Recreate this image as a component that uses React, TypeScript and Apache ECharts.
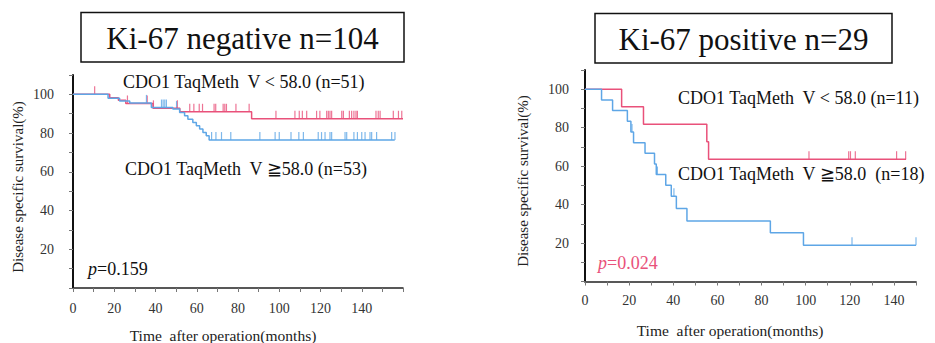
import React, { useEffect, useRef } from "react";
import * as echarts from "echarts";

// ---- Left panel (Ki-67 negative) ----
const leftRedTimes = [0, 17.8, 22, 25.6, 38.8, 51.8, 86.6, 160];
const leftRedSurv = [100, 98.3, 97.0, 95.3, 92.8, 91.0, 87.4, 87.4];
const leftRedCensorT = [10.5, 26.4, 36, 39, 50.6, 56.6, 58.6, 61.2, 62.8, 68.4, 69.2, 72.8, 73.6, 74.4, 79, 85.4, 98.4, 107.6, 109.7, 111.2, 113.3, 118.1, 119.7, 123, 123.8, 124.6, 125.4, 130.3, 131.1, 134, 135.1, 136.2, 137.2, 137.9, 146.9, 148, 148.9, 155.3, 157.8, 159.4];

const leftBlueTimes = [0, 17, 22.6, 27.5, 38, 48.4, 51.7, 54.1, 55.7, 58.1, 59.8, 61.4, 63, 64.6, 66, 156];
const leftBlueSurv = [100, 98.0, 96.6, 95.6, 93.2, 92.4, 90.6, 88.9, 87.2, 85.5, 83.8, 82.1, 80.3, 78.6, 76.4, 76.4];
const leftBlueCensorT = [35.6, 42.9, 43.7, 44.5, 45.3, 50.2, 67.2, 69.3, 72, 76.5, 90.6, 98, 100, 105.7, 109.5, 111.7, 118.9, 120.5, 122.2, 124.6, 125.4, 131.9, 132.7, 136.2, 137.9, 140, 141.6, 144, 144.8, 147.2, 154.5, 156.1];

// ---- Right panel (Ki-67 positive) ----
const rightRedTimes = [0, 16.6, 26.5, 55.2, 56, 145.5];
const rightRedSurv = [100, 90.9, 81.8, 72.7, 63.6, 63.6];
const rightRedCensorT = [101.5, 119.5, 120.3, 122.5, 141.2, 145.3];

const rightBlueTimes = [0, 7.5, 12.5, 19.2, 20.8, 22, 27.2, 31.5, 32.3, 36.6, 39.1, 41.4, 46.2, 84, 99, 150];
const rightBlueSurv = [100, 94.4, 88.9, 83.3, 77.8, 72.2, 66.7, 61.1, 55.6, 50, 44.4, 38, 31.5, 25.3, 18.9, 18.9];
const rightBlueCensorT = [21.3, 32.8, 40.3, 121, 150];

const yTicks = [20, 40, 60, 80, 100];
const xTicks = [0, 20, 40, 60, 80, 100, 120, 140];

const RED = "#e9517a";
const BLUE = "#5ea6e6";
const FONT = "Liberation Serif";

function stepAt(times: number[], surv: number[], t: number) {
  let v = surv[0];
  for (let i = 0; i < times.length; i++) if (times[i] <= t) v = surv[i];
  return v;
}

function App() {
  const ref = useRef<HTMLDivElement>(null);
  useEffect(() => {
    if (!ref.current) return;
    const chart = echarts.init(ref.current, undefined, { renderer: "svg" });
    const pairs = (t: number[], s: number[]) => t.map((x, i) => [x, s[i]]);
    const censors = (ct: number[], t: number[], s: number[]) => ct.map((x) => [x, stepAt(t, s, x)]);

    const xAxisBase = (idx: number, max: number, margin: number) => ({
      type: "value",
      gridIndex: idx,
      min: 0,
      max,
      interval: 10,
      axisLine: { show: true, onZero: false, lineStyle: { color: "#222", width: 1.5 } },
      axisTick: { show: true, length: 4, lineStyle: { color: "#777" } },
      splitLine: { show: false },
      axisLabel: {
        margin,
        color: "#333",
        fontFamily: FONT,
        fontSize: 14,
        formatter: (v: number) => (xTicks.includes(v) ? String(v) : ""),
      },
    });
    const yAxisBase = (idx: number, margin: number) => ({
      type: "value",
      gridIndex: idx,
      min: 0,
      max: 110,
      interval: 10,
      axisLine: { show: true, lineStyle: { color: "#111", width: 2 } },
      axisTick: { show: true, length: 4, lineStyle: { color: "#777" } },
      splitLine: { show: false },
      axisLabel: {
        margin,
        color: "#333",
        fontFamily: FONT,
        fontSize: 14,
        formatter: (v: number) => (yTicks.includes(v) ? String(v) : ""),
      },
    });

    const lineS = (idx: number, data: number[][], color: string) => ({
      type: "line",
      xAxisIndex: idx,
      yAxisIndex: idx,
      step: "end",
      data,
      symbol: "none",
      lineStyle: { color, width: 1.5 },
      silent: true,
    });
    const censorS = (idx: number, data: number[][], color: string) => ({
      type: "scatter",
      xAxisIndex: idx,
      yAxisIndex: idx,
      data,
      symbol: "rect",
      symbolSize: [1.2, 8],
      symbolOffset: [0, -4],
      itemStyle: { color },
      silent: true,
    });

    const txt = (x: number, y: number, text: string, size: number, color = "#111", align = "left", extra: any = {}) => ({
      type: "text",
      x,
      y,
      style: { text, fontSize: size, fontFamily: FONT, fill: color, textAlign: align, textVerticalAlign: "middle", ...extra },
    });

    chart.setOption({
      animation: false,
      backgroundColor: "#fff",
      grid: [
        { left: 73, top: 75, width: 330, height: 213 },
        { left: 585, top: 70, width: 331, height: 211.5 },
      ],
      xAxis: [xAxisBase(0, 160, 13), xAxisBase(1, 150, 12)],
      yAxis: [yAxisBase(0, 19), yAxisBase(1, 16)],
      series: [
        lineS(0, pairs(leftRedTimes, leftRedSurv), RED),
        lineS(0, pairs(leftBlueTimes, leftBlueSurv), BLUE),
        censorS(0, censors(leftRedCensorT, leftRedTimes, leftRedSurv), RED),
        censorS(0, censors(leftBlueCensorT, leftBlueTimes, leftBlueSurv), BLUE),
        lineS(1, pairs(rightRedTimes, rightRedSurv), RED),
        lineS(1, pairs(rightBlueTimes, rightBlueSurv), BLUE),
        censorS(1, censors(rightRedCensorT, rightRedTimes, rightRedSurv), RED),
        censorS(1, censors(rightBlueCensorT, rightBlueTimes, rightBlueSurv), BLUE),
      ],
      graphic: [
        { type: "rect", shape: { x: 81, y: 12.5, width: 323, height: 49.5 }, style: { fill: "#fff", stroke: "#111", lineWidth: 1.5 } },
        txt(242.5, 38, "Ki-67 negative n=104", 31, "#111", "center"),
        { type: "rect", shape: { x: 595, y: 13.5, width: 297, height: 49.5 }, style: { fill: "#fff", stroke: "#111", lineWidth: 1.5 } },
        txt(743.5, 39, "Ki-67 positive n=29", 31, "#111", "center"),
        txt(123, 82, "CDO1 TaqMeth  V < 58.0 (n=51)", 18),
        txt(125, 169, "CDO1 TaqMeth  V ≧58.0 (n=53)", 18),
        txt(678, 98, "CDO1 TaqMeth  V < 58.0 (n=11)", 18),
        txt(678, 174, "CDO1 TaqMeth  V ≧58.0  (n=18)", 18),
        {
          type: "text", x: 88, y: 269,
          style: { text: "{i|p}=0.159", fontSize: 18, fontFamily: FONT, fill: "#111", textVerticalAlign: "middle",
            rich: { i: { fontStyle: "italic", fontSize: 18, fontFamily: FONT, fill: "#111" } } },
        },
        {
          type: "text", x: 598, y: 263,
          style: { text: "{i|p}=0.024", fontSize: 18, fontFamily: FONT, fill: RED, textVerticalAlign: "middle",
            rich: { i: { fontStyle: "italic", fontSize: 18, fontFamily: FONT, fill: RED } } },
        },
        { type: "text", x: 18, y: 187, rotation: Math.PI / 2,
          style: { text: "Disease specific survival(%)", fontSize: 15, fontFamily: FONT, fill: "#222", textAlign: "center", textVerticalAlign: "middle" } },
        { type: "text", x: 523, y: 181, rotation: Math.PI / 2,
          style: { text: "Disease specific survival(%)", fontSize: 15, fontFamily: FONT, fill: "#222", textAlign: "center", textVerticalAlign: "middle" } },
        txt(223, 335, "Time  after operation(months)", 15.5, "#222", "center"),
        txt(730, 330, "Time  after operation(months)", 15.5, "#222", "center"),
      ],
    });
    return () => chart.dispose();
  }, []);
  return <div ref={ref} style={{ position: "absolute", left: 0, top: 0, width: 935, height: 343 }} />;
}

export default App;
